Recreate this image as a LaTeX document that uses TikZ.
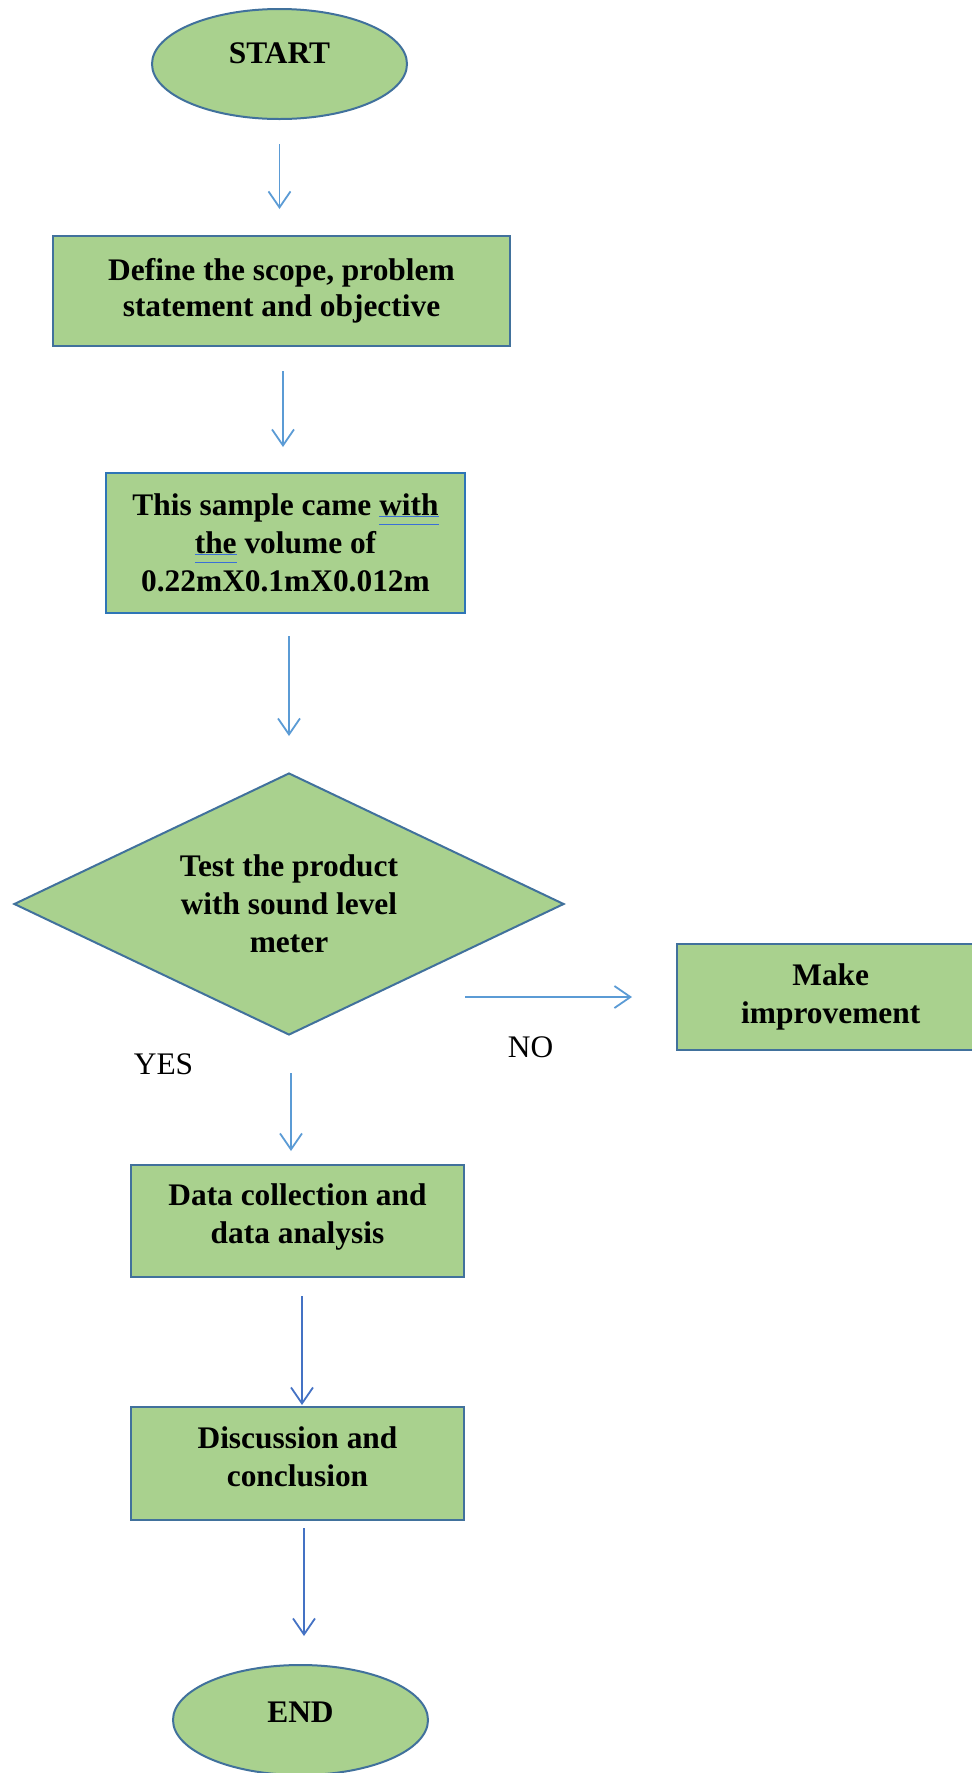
\documentclass[tikz,border=0pt]{standalone}
\usepackage{fontspec}
\setmainfont{Liberation Serif}
\usetikzlibrary{shapes.geometric,arrows.meta}
\definecolor{boxgreen}{HTML}{A9D18E}
\definecolor{edgeblue}{HTML}{41719C}
\definecolor{lightedge}{HTML}{2E75B6}
\definecolor{arrowblue}{HTML}{5B9BD5}
\definecolor{deeparrow}{HTML}{4472C4}
\definecolor{checkblue}{HTML}{3A6FD8}
\newsavebox\gramsave
\newcommand\gramline[1]{\sbox\gramsave{#1}%
  \rlap{\color{checkblue}\rule[-0.9pt]{\wd\gramsave}{0.9pt}}%
  \rlap{\color{checkblue}\rule[-4.9pt]{\wd\gramsave}{0.9pt}}%
  \usebox\gramsave}
\newcommand\liftlines[2]{\raisebox{#1}[\height][\depth]{%
  \begin{tabular}{@{}c@{}}#2\end{tabular}}}
\begin{document}
\begin{tikzpicture}[
    x=0.5pt, y=-0.5pt,
    font=\fontsize{15.7}{19}\selectfont\bfseries,
    stepbox/.style={rectangle, draw=edgeblue, fill=boxgreen, line width=1pt,
      align=center, inner sep=0pt},
    term/.style={ellipse, draw=edgeblue, fill=boxgreen, line width=1pt,
      inner sep=0pt, minimum width=127.5pt, minimum height=55pt},
    decision/.style={diamond, draw=edgeblue, fill=boxgreen, line width=1pt,
      align=center, aspect=2.1, inner sep=0pt,
      minimum width=275pt, minimum height=131pt},
    flow/.style={arrowblue, line width=0.9pt,
      -{Straight Barb[length=8pt, width=11pt]}},
    answer/.style={font=\fontsize{15.7}{19}\selectfont}
  ]
    \useasboundingbox (0,0) rectangle (972,1773);
    \node[term] (start) at (279.5,64)
      {\raisebox{5.5pt}[\height][\depth]{START}};
    \node[stepbox, minimum width=228.5pt, minimum height=55pt,
      font=\fontsize{15.7}{18}\selectfont\bfseries]
      (scope) at (281.5,291)
      {Define the scope, problem\\statement and objective};
    \node[stepbox, draw=lightedge, minimum width=179.5pt, minimum height=70pt]
      (sample) at (285.5,543)
      {This sample came \gramline{with}\\\gramline{the} volume of\\0.22mX0.1mX0.012m};
    \node[decision] (test) at (289,904)
      {\liftlines{-1.5pt}{Test the product\\with sound level\\meter}};
    \node[stepbox, minimum width=154.25pt, minimum height=53pt]
      (improve) at (830.75,997) {Make\\improvement};
    \node[stepbox, minimum width=166.5pt, minimum height=56pt]
      (data) at (297.5,1221)
      {\liftlines{2.25pt}{Data collection and\\data analysis}};
    \node[stepbox, minimum width=166.5pt, minimum height=56.5pt]
      (disc) at (297.5,1463.5)
      {\liftlines{2pt}{Discussion and\\conclusion}};
    \node[term] (end) at (300.5,1720)
      {\raisebox{4pt}[\height][\depth]{END}};
    \node[answer] (yes) at (163.5,1064.5) {YES};
    \node[answer] (no) at (530.5,1047) {NO};
    \draw[flow, shorten <=12pt, shorten >=13pt]
      (start.south) -- (start.south |- scope.north);
    \draw[flow, shorten <=12pt, shorten >=12.5pt]
      ([xshift=0.75pt]scope.south) -- ([xshift=0.75pt]scope.south |- sample.north);
    \draw[flow, shorten <=11pt, shorten >=18pt]
      ([xshift=1.75pt]sample.south) -- ([xshift=1.75pt]sample.south |- test.north);
    \draw[flow, shorten >=21.75pt]
      ([xshift=-50pt]test.east |- improve.west) -- (improve.west);
    \draw[flow, shorten <=18.5pt, shorten >=6.5pt]
      ([xshift=-3.25pt]data.north |- test.south) -- ([xshift=-3.25pt]data.north);
    \draw[flow, deeparrow, shorten <=9pt, shorten >=0.5pt]
      ([xshift=2.25pt]data.south) -- ([xshift=2.25pt]data.south |- disc.north);
    \draw[flow, deeparrow, shorten <=3.5pt, shorten >=14pt]
      ([xshift=3.25pt]disc.south) -- ([xshift=3.25pt]disc.south |- end.north);
  \end{tikzpicture}
\end{document}
